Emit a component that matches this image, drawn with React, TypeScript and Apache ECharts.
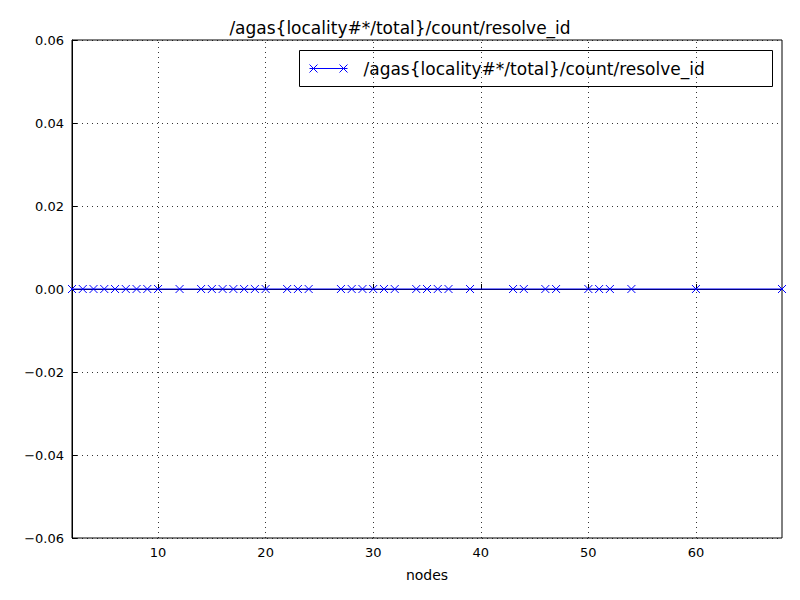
import { useEffect, useRef } from "react";
import * as echarts from "echarts";

const nodes = [2, 3, 4, 5, 6, 7, 8, 9, 10, 12, 14, 15, 16, 17, 18, 19, 20, 22, 23, 24, 27, 28, 29, 30, 31, 32, 34, 35, 36, 37, 39, 43, 44, 46, 47, 50, 51, 52, 54, 60, 68];
const counts = nodes.map(() => 0);
const xTicks = [10, 20, 30, 40, 50, 60];
const seriesName = "/agas{locality#*/total}/count/resolve_id";

const App = () => {
  const chartRef = useRef(null);

  useEffect(() => {
    const chart = echarts.init(chartRef.current, null, { renderer: "svg" });
    const font = "DejaVu Sans";
    const dotted = { color: "#000", type: [1, 4], width: 0.8 };
    chart.setOption({
      animation: false,
      title: {
        text: seriesName,
        left: "center",
        top: 14,
        textStyle: { fontSize: 17, fontWeight: "normal", color: "#000", fontFamily: font },
      },
      grid: { left: 72, right: 18, top: 40, bottom: 62, show: true, borderColor: "#000", borderWidth: 1 },
      xAxis: {
        type: "value",
        min: 2,
        max: 68,
        name: "nodes",
        nameLocation: "middle",
        nameGap: 30,
        nameTextStyle: { fontSize: 14, color: "#000", fontFamily: font },
        axisLine: { lineStyle: { color: "#000" } },
        axisTick: { inside: true, length: 5, lineStyle: { color: "#000" }, customValues: xTicks },
        axisLabel: { color: "#000", fontSize: 13, fontFamily: font, customValues: xTicks },
        splitLine: { show: false },
      },
      yAxis: {
        type: "value",
        min: -0.06,
        max: 0.06,
        interval: 0.02,
        axisLine: { lineStyle: { color: "#000" } },
        axisTick: { inside: true, length: 5, lineStyle: { color: "#000" } },
        axisLabel: {
          color: "#000",
          fontSize: 13,
          fontFamily: font,
          formatter: (v: number) => v.toFixed(2).replace("-", "\u2212"),
        },
        splitLine: { show: true, lineStyle: dotted },
      },
      series: [
        {
          name: seriesName,
          type: "line",
          data: nodes.map((n, i) => [n, counts[i]]),
          symbol: "path://M0,0L10,10M10,0L0,10",
          symbolSize: 8,
          lineStyle: { color: "#0000ff", width: 1.2 },
          itemStyle: { color: "#fff", borderColor: "#0000ff", borderWidth: 1 },
          color: "#0000ff",
          z: 3,
          markLine: {
            silent: true,
            symbol: "none",
            label: { show: false },
            lineStyle: dotted,
            z: 1,
            data: xTicks.map((t) => ({ xAxis: t })),
          },
        },
      ],
      graphic: [
        {
          type: "group",
          left: 299,
          top: 50,
          children: [
            { type: "rect", shape: { x: 0, y: 0, width: 473, height: 36 }, style: { fill: "#fff", stroke: "#000", lineWidth: 1 } },
            { type: "line", shape: { x1: 10, y1: 18, x2: 48, y2: 18 }, style: { stroke: "#0000ff", lineWidth: 1.2 } },
            { type: "line", shape: { x1: 10, y1: 14, x2: 18, y2: 22 }, style: { stroke: "#0000ff", lineWidth: 1 } },
            { type: "line", shape: { x1: 18, y1: 14, x2: 10, y2: 22 }, style: { stroke: "#0000ff", lineWidth: 1 } },
            { type: "line", shape: { x1: 40, y1: 14, x2: 48, y2: 22 }, style: { stroke: "#0000ff", lineWidth: 1 } },
            { type: "line", shape: { x1: 48, y1: 14, x2: 40, y2: 22 }, style: { stroke: "#0000ff", lineWidth: 1 } },
            { type: "text", x: 64, y: 18, style: { text: seriesName, fill: "#000", font: `17px "${font}"`, textVerticalAlign: "middle" } },
          ],
        },
      ],
    });
    return () => chart.dispose();
  }, []);

  return <div ref={chartRef} style={{ width: 800, height: 600, margin: -8 }} />;
};

export default App;
